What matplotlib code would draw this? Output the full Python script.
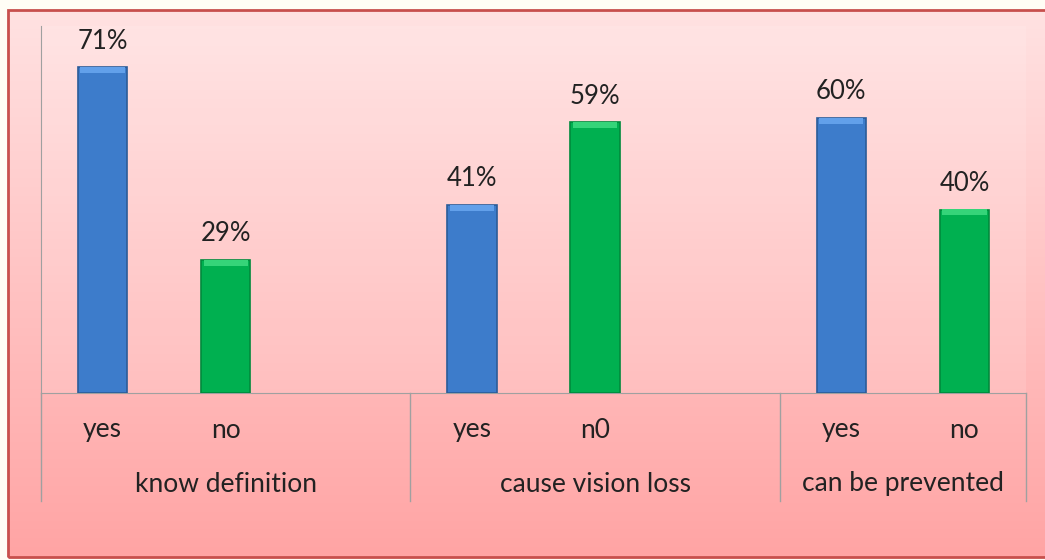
import numpy as np
import matplotlib.pyplot as plt
from matplotlib.patches import Rectangle

# Data
groups = ["know definition", "cause vision loss", "can be prevented"]
answers = ["yes", "no", "", "yes", "n0", "", "yes", "no"]
values = [71, 29, None, 41, 59, None, 60, 40]
bar_colors = ["#3D7CCB", "#00B050", None, "#3D7CCB", "#00B050", None, "#3D7CCB", "#00B050"]
edge_colors = ["#2B5C98", "#008A3C", None, "#2B5C98", "#008A3C", None, "#2B5C98", "#008A3C"]
cap_colors = ["#62A0EA", "#35D479", None, "#62A0EA", "#35D479", None, "#62A0EA", "#35D479"]
group_bounds = [(-0.5, 2.5), (2.5, 5.5), (5.5, 7.5)]

plt.rcParams["font.family"] = ["Lato", "DejaVu Sans"]

W, H = 1045, 560
fig = plt.figure(figsize=(W / 100, H / 100), dpi=100, facecolor="#FFFDF5")

# background gradient inside the frame
bx0, by0, bw, bh = 8 / W, 1 - 557 / H, (W - 8) / W, 547 / H
bg = fig.add_axes([bx0, by0, bw, bh], zorder=-10)
grad = np.linspace(0, 1, 256).reshape(-1, 1)
top = np.array([255, 226, 226]) / 255
bot = np.array([255, 164, 164]) / 255
img = (top + (bot - top) * grad[..., None]).reshape(256, 1, 3)
bg.imshow(img, aspect="auto", extent=[0, 1, 0, 1], origin="upper")
bg.add_patch(Rectangle((0, 0), 1.01, 1, transform=bg.transAxes,
                       fill=False, edgecolor="#C8504D", lw=2, clip_on=False))
bg.set_xlim(0, 1)
bg.set_ylim(0, 1)
bg.axis("off")

# plot area
x0, x1 = 41 / W, 1026 / W
yfloor, ytop = 1 - 393 / H, 1 - 26 / H
ax = fig.add_axes([x0, yfloor, x1 - x0, ytop - yfloor])
ax.set_facecolor((1, 1, 1, 0.12))
ax.set_xlim(-0.5, 7.5)
ax.set_ylim(0, 80)

for i, v in enumerate(values):
    if v is None:
        continue
    ax.bar(i, v, width=0.4, color=bar_colors[i], edgecolor=edge_colors[i], linewidth=1.2, zorder=3)
    ax.bar(i, 1.3, bottom=v - 1.3, width=0.36, color=cap_colors[i], linewidth=0, zorder=4)
    ax.text(i, v + 3.0, f"{v}%", ha="center", va="bottom", fontsize=18.5, color="#222222")

for s in ["top", "right"]:
    ax.spines[s].set_visible(False)
ax.spines["left"].set_color("#A0A0A0")
ax.spines["bottom"].set_color("#A0A0A0")
ax.set_xticks([])
ax.set_yticks([])

# category labels below the axis
trans = ax.get_xaxis_transform()
ph = ytop - yfloor
def yoff(px):
    return -px / H / ph

for i, a in enumerate(answers):
    if a:
        ax.text(i, yoff(37), a, transform=trans, ha="center", va="center",
                fontsize=19, color="#222222", clip_on=False)

for name, (a, b) in zip(groups, group_bounds):
    ax.text((a + b) / 2, yoff(91), name, transform=trans, ha="center", va="center",
            fontsize=19, color="#222222", clip_on=False)

for xb in [-0.5, 2.5, 5.5, 7.5]:
    ax.plot([xb, xb], [0, yoff(108)], transform=trans, color="#A0A0A0", lw=1,
            clip_on=False)

fig.savefig("out.png", dpi=100, facecolor=fig.get_facecolor())
